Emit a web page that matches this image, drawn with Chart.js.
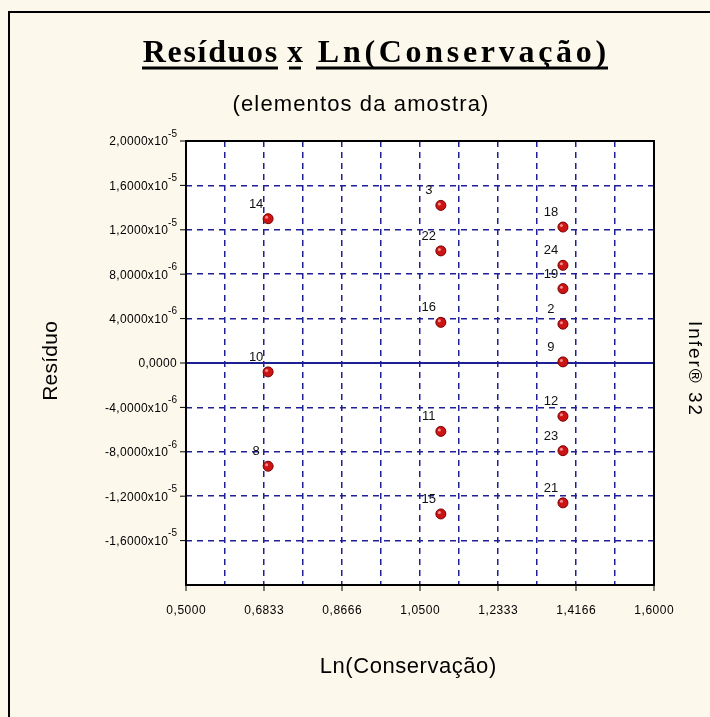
<!DOCTYPE html>
<html>
<head>
<meta charset="utf-8">
<script src="https://cdn.jsdelivr.net/npm/chart.js@4"></script>
<style>
  html, body { margin: 0; padding: 0; background: #fcf8ec; }
  canvas { display: block; }
</style>
</head>
<body>
<canvas id="chart" width="710" height="717"></canvas>
<script>
// sample elements: id, Ln(Conservação), residual
const pointIds = ["14", "10", "8", "3", "22", "16", "11", "15", "18", "24", "19", "2", "9", "12", "23", "21"];
const xValues = [0.693, 0.693, 0.693, 1.099, 1.099, 1.099, 1.099, 1.099, 1.386, 1.386, 1.386, 1.386, 1.386, 1.386, 1.386, 1.386];
const residuals = [1.30e-5, -0.08e-5, -0.93e-5, 1.42e-5, 1.01e-5, 0.366e-5, -0.616e-5, -1.36e-5,
                   1.225e-5, 0.88e-5, 0.67e-5, 0.35e-5, 0.01e-5, -0.48e-5, -0.79e-5, -1.26e-5];

const xGrid = [0.5, 0.59167, 0.68333, 0.775, 0.86667, 0.95833, 1.05, 1.14167, 1.23333, 1.325, 1.41667, 1.50833, 1.6];
const xTickValues = [0.5, 0.68333, 0.86667, 1.05, 1.23333, 1.41667, 1.6];
const xTickLabels = ["0,5000", "0,6833", "0,8666", "1,0500", "1,2333", "1,4166", "1,6000"];

const yTickValues = [2e-5, 1.6e-5, 1.2e-5, 8e-6, 4e-6, 0, -4e-6, -8e-6, -1.2e-5, -1.6e-5];
const yTickBase = ["2,0000x10", "1,6000x10", "1,2000x10", "8,0000x10", "4,0000x10", "0,0000",
                   "-4,0000x10", "-8,0000x10", "-1,2000x10", "-1,6000x10"];
const yTickExp = ["-5", "-5", "-5", "-6", "-6", "", "-6", "-6", "-5", "-5"];
const yGrid = [-2e-5, -1.6e-5, -1.2e-5, -8e-6, -4e-6, 0, 4e-6, 8e-6, 1.2e-5, 1.6e-5, 2e-5];

const SANS = '"Liberation Sans", Arial, sans-serif';
const SERIF = '"Liberation Serif", "Times New Roman", serif';
const NAVY = "#1f1f96";

// draw text stretched with letter spacing to a given width, centred on cx
function fitText(ctx, text, cx, cy, width, font) {
  ctx.font = font;
  ctx.letterSpacing = "0px";
  const w = ctx.measureText(text).width;
  const n = [...text].length;
  const ls = (width - w) / n;
  ctx.letterSpacing = ls + "px";
  ctx.textAlign = "left";
  ctx.fillText(text, cx - width / 2 + ls / 2, cy);
  ctx.letterSpacing = "0px";
}

const decor = {
  id: "decor",
  beforeDraw(chart) {
    const { ctx, chartArea: a } = chart;
    ctx.save();
    ctx.fillStyle = "#fcf8ec";
    ctx.fillRect(0, 0, chart.width, chart.height);
    ctx.fillStyle = "#ffffff";
    ctx.fillRect(a.left, a.top, a.right - a.left, a.bottom - a.top);
    ctx.strokeStyle = "#000";
    ctx.lineWidth = 2;
    ctx.strokeRect(9, 12, 800, 800);
    ctx.restore();
  },
  beforeDatasetsDraw(chart) {
    const { ctx, chartArea: a, scales } = chart;
    const y0 = scales.y.getPixelForValue(0);
    ctx.save();
    ctx.strokeStyle = NAVY;
    ctx.lineWidth = 2;
    ctx.beginPath();
    ctx.moveTo(a.left, y0);
    ctx.lineTo(a.right, y0);
    ctx.stroke();
    ctx.restore();
  },
  afterDatasetsDraw(chart) {
    const { ctx } = chart;
    const meta = chart.getDatasetMeta(0);
    ctx.save();
    // little highlight on each ball
    meta.data.forEach((el) => {
      ctx.fillStyle = "rgba(255,170,170,0.8)";
      ctx.beginPath();
      ctx.arc(el.x - 1.5, el.y - 1.5, 1.5, 0, Math.PI * 2);
      ctx.fill();
    });
    ctx.fillStyle = "#111";
    ctx.font = "13px " + SANS;
    ctx.textAlign = "center";
    ctx.textBaseline = "middle";
    meta.data.forEach((el, i) => {
      ctx.fillText(pointIds[i], el.x - 12, el.y - 14.5);
    });
    ctx.restore();
  },
  afterDraw(chart) {
    const { ctx, chartArea: a, scales } = chart;
    ctx.save();
    // plot frame
    ctx.strokeStyle = "#000";
    ctx.lineWidth = 2;
    ctx.strokeRect(a.left, a.top, a.right - a.left, a.bottom - a.top);

    // y ticks
    ctx.fillStyle = "#000";
    ctx.textBaseline = "middle";
    yTickValues.forEach((v, i) => {
      const y = scales.y.getPixelForValue(v);
      ctx.lineWidth = 1;
      ctx.beginPath();
      ctx.moveTo(a.left - 6, y);
      ctx.lineTo(a.left, y);
      ctx.stroke();
      let right = 177;
      if (yTickExp[i]) {
        ctx.font = "10px " + SANS;
        ctx.letterSpacing = "0px";
        const ew = ctx.measureText(yTickExp[i]).width;
        ctx.textAlign = "left";
        ctx.fillText(yTickExp[i], right - ew, y - 7);
        right -= ew;
      }
      ctx.font = "12px " + SANS;
      ctx.letterSpacing = "0.3px";
      ctx.textAlign = "right";
      ctx.fillText(yTickBase[i], right, y + 1);
      ctx.letterSpacing = "0px";
    });

    // x ticks
    xTickValues.forEach((v, i) => {
      const x = scales.x.getPixelForValue(v);
      ctx.lineWidth = 1;
      ctx.beginPath();
      ctx.moveTo(x, a.bottom);
      ctx.lineTo(x, a.bottom + 6);
      ctx.stroke();
      fitText(ctx, xTickLabels[i], x, 611, 40, "12px " + SANS);
    });

    // title, word by word with underline
    ctx.textBaseline = "alphabetic";
    const words = [["Resíduos", 142, 278], ["x", 289, 301], ["Ln(Conservação)", 316, 608]];
    words.forEach(([w, x1, x2]) => {
      fitText(ctx, w, (x1 + x2) / 2, 62, x2 - x1, "bold 32px " + SERIF);
      ctx.fillRect(x1, 66.5, x2 - x1, 3);
    });

    ctx.textBaseline = "middle";
    fitText(ctx, "(elementos da amostra)", 360.5, 105, 257, "22px " + SANS);
    fitText(ctx, "Ln(Conservação)", 408, 667, 177, "22px " + SANS);

    ctx.save();
    ctx.translate(51, 361);
    ctx.rotate(-Math.PI / 2);
    fitText(ctx, "Resíduo", 0, 0, 80, "21px " + SANS);
    ctx.restore();

    ctx.save();
    ctx.translate(694, 368);
    ctx.rotate(Math.PI / 2);
    fitText(ctx, "Infer® 32", 0, 0, 96, "19px " + SANS);
    ctx.restore();

    ctx.restore();
  }
};

new Chart(document.getElementById("chart"), {
  type: "scatter",
  data: {
    datasets: [{
      data: xValues.map((x, i) => ({ x: x, y: residuals[i] })),
      pointRadius: 5,
      pointHoverRadius: 5,
      backgroundColor: "#cc1414",
      borderColor: "#7a0000",
      borderWidth: 1
    }]
  },
  options: {
    responsive: false,
    devicePixelRatio: 1,
    animation: false,
    layout: { padding: { top: 141, right: 56, bottom: 0, left: 0 } },
    plugins: { legend: { display: false }, tooltip: { enabled: false } },
    scales: {
      x: {
        type: "linear",
        min: 0.5,
        max: 1.6,
        afterBuildTicks: (s) => { s.ticks = xGrid.map((v) => ({ value: v })); },
        afterFit: (s) => { s.height = 132; },
        ticks: { display: false },
        grid: { color: NAVY, lineWidth: 1.5, drawTicks: false },
        border: { display: false, dash: [6, 5] }
      },
      y: {
        type: "linear",
        min: -2e-5,
        max: 2e-5,
        afterBuildTicks: (s) => { s.ticks = yGrid.map((v) => ({ value: v })); },
        afterFit: (s) => { s.width = 186; },
        ticks: { display: false },
        grid: {
          color: (c) => (c.tick && c.tick.value === 0 ? "rgba(0,0,0,0)" : NAVY),
          lineWidth: 1.5,
          drawTicks: false
        },
        border: { display: false, dash: [6, 5] }
      }
    }
  },
  plugins: [decor]
});
</script>
</body>
</html>
